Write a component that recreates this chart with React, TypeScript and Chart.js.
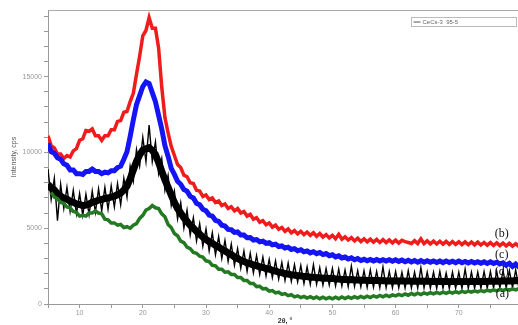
import React, { useEffect, useRef } from "react";
import { Chart, registerables } from "chart.js";

Chart.register(...registerables);

// 2θ sampling grid: 5° to 80° every 0.5°
const START_DEG = 5;
const STEP_DEG = 0.5;

// (b) red
const seriesB = [
  11100, 10450, 10300, 9900, 9900, 9600, 9800, 9700, 10100, 10250,
  10800, 10900, 11450, 11400, 11550, 11100, 11100, 10800, 11100, 11100,
  11500, 11500, 12050, 12100, 12650, 12700, 13350, 13900, 15150, 16350,
  17700, 18050, 18900, 18200, 18200, 16900, 14300, 12300, 11300, 10400,
  9800, 9200, 9000, 8500, 8400, 8000, 7950, 7500, 7450, 7100,
  7200, 6900, 7000, 6700, 6800, 6500, 6600, 6300, 6420, 6150,
  6300, 6000, 6100, 5800, 5920, 5600, 5700, 5400, 5500, 5230,
  5350, 5070, 5200, 4930, 5050, 4800, 4950, 4700, 4850, 4630,
  4800, 4580, 4750, 4530, 4700, 4470, 4650, 4420, 4580, 4360,
  4530, 4310, 4600, 4270, 4430, 4220, 4380, 4160, 4340, 4120,
  4300, 4100, 4280, 4080, 4260, 4060, 4250, 4050, 4230, 4030,
  4210, 4020, 4200, 4120, 4060, 3990, 4180, 3990, 4300, 3980,
  4160, 3970, 4150, 3960, 4140, 3950, 4130, 3940, 4120, 3930,
  4110, 3920, 4100, 3910, 4090, 3900, 4080, 3890, 4060, 3880,
  4050, 3860, 4040, 3850, 4020, 3830, 4000, 3810, 3980, 3800,
  3960,
];

// (c) blue
const seriesC = [
  10600, 10050, 9950, 9650, 9550, 9250, 9150, 8850, 8850, 8600,
  8600, 8550, 8750, 8750, 8900, 8750, 8750, 8600, 8700, 8650,
  8800, 8800, 9000, 9100, 9550, 10050, 11050, 12150, 13150, 13750,
  14350, 14650, 14550, 13950, 13350, 12450, 11550, 10450, 9750, 8950,
  8550, 8100, 7900, 7550, 7450, 7100, 7000, 6650, 6550, 6250,
  6150, 5870, 5800, 5520, 5450, 5200, 5150, 4920, 4900, 4720,
  4750, 4550, 4550, 4370, 4380, 4220, 4250, 4100, 4150, 4000,
  4050, 3900, 3950, 3790, 3830, 3690, 3750, 3600, 3650, 3510,
  3580, 3440, 3500, 3370, 3450, 3320, 3400, 3260, 3330, 3190,
  3250, 3110, 3180, 3040, 3100, 2970, 3050, 2920, 3000, 2870,
  2950, 2850, 2940, 2840, 2930, 2830, 2920, 2830, 2920, 2820,
  2920, 2810, 2900, 2790, 2880, 2770, 2870, 2760, 2860, 2750,
  2850, 2750, 2840, 2740, 2830, 2730, 2830, 2730, 2820, 2720,
  2830, 2720, 2810, 2710, 2800, 2700, 2790, 2690, 2780, 2680,
  2780, 2670, 2760, 2640, 2720, 2560, 2680, 2480, 2640, 2440,
  2600,
];

// (d) black, spiky trace
const seriesD = [
  8900, 6900, 8300, 5500, 7900, 6300, 7700, 6100, 7500, 5950,
  7300, 5850, 7250, 5900, 7450, 6050, 7600, 6150, 7700, 6250,
  7800, 6400, 7950, 6550, 8300, 7050, 9100, 8100, 10200, 9100,
  11000, 9400, 11800, 9400, 10700, 8600, 9600, 7500, 8500, 6500,
  7450, 5600, 6700, 5000, 6200, 4550, 5700, 4150, 5300, 3800,
  4950, 3500, 4700, 3250, 4450, 3000, 4200, 2800, 3950, 2550,
  3650, 2350, 3500, 2150, 3350, 2050, 3200, 1950, 3100, 1850,
  2950, 1750, 2850, 1650, 2750, 1550, 2700, 1500, 2600, 1450,
  2550, 1350, 2450, 1300, 2600, 1300, 2400, 1250, 2350, 1250,
  2350, 1200, 2300, 1180, 2250, 1150, 2500, 1150, 2200, 1130,
  2200, 1100, 2250, 1100, 2150, 1080, 2450, 1080, 2150, 1070,
  2150, 1070, 2100, 1060, 2200, 1050, 2100, 1050, 2400, 1050,
  2100, 1040, 2100, 1030, 2150, 1030, 2050, 1020, 2100, 1030,
  2100, 1020, 2300, 1030, 2100, 1030, 2100, 1040, 2150, 1040,
  2150, 1050, 2150, 1060, 2200, 1070, 2200, 1080, 2250, 1100,
  2200,
];

// (d) black, dense core of the trace
const seriesDCore = [
  7900, 7650, 7520, 7280, 7120, 6980, 6920, 6780, 6720, 6600,
  6570, 6490, 6530, 6590, 6710, 6770, 6860, 6890, 6960, 6990,
  7060, 7110, 7210, 7310, 7520, 7780, 8260, 8840, 9410, 9840,
  10160, 10240, 10310, 10140, 9860, 9340, 8760, 8190, 7710, 7190,
  6710, 6290, 6010, 5690, 5460, 5190, 5010, 4790, 4610, 4410,
  4260, 4110, 4010, 3860, 3760, 3610, 3510, 3360, 3260, 3110,
  3010, 2890, 2810, 2710, 2660, 2570, 2530, 2450, 2410, 2340,
  2310, 2220, 2180, 2100, 2070, 2000, 1980, 1920, 1910, 1860,
  1860, 1810, 1810, 1770, 1770, 1730, 1730, 1700, 1710, 1680,
  1690, 1650, 1650, 1620, 1630, 1600, 1610, 1580, 1590, 1570,
  1580, 1555, 1570, 1545, 1560, 1535, 1550, 1525, 1540, 1520,
  1540, 1515, 1530, 1510, 1525, 1505, 1520, 1500, 1515, 1495,
  1510, 1490, 1505, 1485, 1500, 1480, 1498, 1476, 1495, 1474,
  1492, 1472, 1494, 1476, 1498, 1480, 1502, 1484, 1506, 1488,
  1510, 1495, 1520, 1505, 1530, 1515, 1540, 1525, 1550, 1535,
  1550,
];

// (a) green
const seriesA = [
  null, 7350, 7050, 6950, 6700, 6650, 6400, 6350, 6100, 6050,
  5800, 5850, 5800, 6000, 6000, 6150, 6000, 5950, 5600, 5550,
  5350, 5350, 5200, 5250, 5050, 5100, 5000, 5200, 5300, 5650,
  5850, 6200, 6300, 6500, 6350, 6300, 5950, 5750, 5250, 5050,
  4650, 4500, 4150, 4050, 3750, 3650, 3400, 3350, 3150, 3100,
  2850, 2800, 2550, 2520, 2300, 2300, 2100, 2120, 1950, 1950,
  1750, 1750, 1550, 1550, 1350, 1350, 1150, 1170, 1000, 1020,
  850, 890, 730, 780, 630, 690, 550, 610, 470, 540,
  420, 505, 390, 480, 370, 460, 350, 445, 340, 440,
  340, 445, 350, 460, 360, 470, 370, 480, 390, 500,
  410, 520, 430, 540, 450, 560, 470, 580, 490, 600,
  540, 640, 560, 660, 580, 690, 600, 710, 620, 730,
  650, 750, 670, 770, 690, 780, 700, 800, 720, 810,
  740, 830, 760, 850, 780, 870, 800, 890, 820, 910,
  850, 940, 870, 960, 890, 980, 910, 1000, 930, 1020,
  960,
];

const xTickValues = [5, 10, 15, 20, 25, 30, 35, 40, 45, 50, 55, 60, 65, 70, 75, 80];
const yTickValues = [
  0, 1000, 2000, 3000, 4000, 5000, 6000, 7000, 8000, 9000, 10000,
  11000, 12000, 13000, 14000, 15000, 16000, 17000, 18000, 19000,
];

const curveLabels = ["(b)", "(c)", "(d)", "(a)"];
const labelX = [76.8, 76.8, 76.8, 76.9];
const labelY = [4600, 3250, 2100, 680];

const legendText = "CeCs-3  95-5";
const xTitle = "2θ, °";
const yTitle = "Intensity, cps";

const X_MIN = 5;
const X_MAX = 80;
const Y_MIN = 0;
const Y_MAX = 19400;

const twoTheta = seriesB.map((_, i) => START_DEG + i * STEP_DEG);
const toPoints = (arr: (number | null)[]) =>
  arr.map((v, i) => ({ x: twoTheta[i], y: v }));

const SANS = 'Arial, "Liberation Sans", sans-serif';
const SERIF = '"Liberation Serif", "Times New Roman", serif';

const extrasPlugin = {
  id: "extras",
  afterDatasetsDraw(chart: any) {
    const { ctx, chartArea, scales } = chart;
    ctx.save();
    // top frame line
    ctx.strokeStyle = "#aaaaaa";
    ctx.lineWidth = 1;
    ctx.beginPath();
    ctx.moveTo(chartArea.left, chartArea.top + 0.5);
    ctx.lineTo(chartArea.right, chartArea.top + 0.5);
    ctx.stroke();

    // curve labels
    ctx.fillStyle = "#111111";
    ctx.font = `12px ${SERIF}`;
    ctx.textAlign = "center";
    ctx.textBaseline = "middle";
    curveLabels.forEach((t, i) => {
      const px = scales.x.getPixelForValue(labelX[i]);
      const py = scales.y.getPixelForValue(labelY[i]);
      ctx.fillText(t, px, py);
    });

    // legend box
    const bx = 411.5, by = 17.5, bw = 105, bh = 9;
    ctx.fillStyle = "#ffffff";
    ctx.fillRect(bx, by, bw, bh);
    ctx.strokeStyle = "#bbbbbb";
    ctx.strokeRect(bx, by, bw, bh);
    ctx.strokeStyle = "#555555";
    ctx.beginPath();
    ctx.moveTo(bx + 2, by + 4.5);
    ctx.lineTo(bx + 9, by + 4.5);
    ctx.stroke();
    ctx.fillStyle = "#666666";
    ctx.font = `6px ${SANS}`;
    ctx.textAlign = "left";
    ctx.textBaseline = "middle";
    ctx.fillText(legendText, bx + 11, by + 5);
    ctx.restore();
  },
};

const lineDefaults = { pointRadius: 0, tension: 0, fill: false };

export default function App() {
  const ref = useRef<HTMLCanvasElement | null>(null);

  useEffect(() => {
    if (!ref.current) return;
    const chart = new Chart(ref.current, {
      type: "line",
      data: {
        datasets: [
          {
            ...lineDefaults,
            label: "(a)",
            data: toPoints(seriesA),
            borderColor: "#237a23",
            borderWidth: 3.5,
            spanGaps: true,
          },
          {
            ...lineDefaults,
            label: "(d)",
            data: toPoints(seriesD),
            borderColor: "#000000",
            borderWidth: 1.4,
          },
          {
            ...lineDefaults,
            label: "(d) core",
            data: toPoints(seriesDCore),
            borderColor: "#000000",
            borderWidth: 7,
          },
          {
            ...lineDefaults,
            label: "(c)",
            data: toPoints(seriesC),
            borderColor: "#1414f4",
            borderWidth: 5,
          },
          {
            ...lineDefaults,
            label: "(b)",
            data: toPoints(seriesB),
            borderColor: "#f01c1c",
            borderWidth: 3.5,
          },
        ],
      },
      options: {
        animation: false,
        responsive: false,
        maintainAspectRatio: false,
        layout: { padding: { top: 10, right: 8, left: 0, bottom: 0 } },
        plugins: {
          legend: { display: false },
          tooltip: { enabled: false },
        },
        scales: {
          x: {
            type: "linear",
            min: X_MIN,
            max: X_MAX,
            afterBuildTicks: (s: any) => {
              s.ticks = xTickValues.map((v) => ({ value: v }));
            },
            afterFit: (s: any) => {
              s.height = 21;
            },
            grid: {
              drawOnChartArea: false,
              drawTicks: true,
              tickLength: 4,
              color: "#999999",
            },
            border: { color: "#999999", width: 1 },
            ticks: {
              autoSkip: false,
              maxRotation: 0,
              padding: 1,
              color: "#999999",
              font: { family: SANS, size: 7 },
              callback: (v: any) => (Number(v) % 10 === 0 ? String(v) : ""),
            },
            title: {
              display: true,
              text: xTitle,
              color: "#333333",
              font: { family: SANS, size: 7, weight: "bold" },
              padding: { top: 0, bottom: 0 },
            },
          },
          y: {
            type: "linear",
            min: Y_MIN,
            max: Y_MAX,
            afterBuildTicks: (s: any) => {
              s.ticks = yTickValues.map((v) => ({ value: v }));
            },
            afterFit: (s: any) => {
              s.width = 48;
            },
            grid: {
              drawOnChartArea: false,
              drawTicks: true,
              tickLength: 4,
              color: "#999999",
            },
            border: { color: "#999999", width: 1 },
            ticks: {
              autoSkip: false,
              padding: 2,
              color: "#999999",
              font: { family: SANS, size: 7 },
              callback: (v: any) => (Number(v) % 5000 === 0 ? String(v) : ""),
            },
            title: {
              display: true,
              text: yTitle,
              color: "#555555",
              font: { family: SANS, size: 7 },
              padding: { top: 10, bottom: 0 },
            },
          },
        },
      },
      plugins: [extrasPlugin],
    });
    return () => chart.destroy();
  }, []);

  return (
    <div
      style={{
        position: "fixed",
        left: 0,
        top: 0,
        width: 518,
        height: 325,
        overflow: "hidden",
        background: "#ffffff",
      }}
    >
      <canvas
        ref={ref}
        width={530}
        height={325}
        style={{ width: 530, height: 325, display: "block" }}
      />
    </div>
  );
}
